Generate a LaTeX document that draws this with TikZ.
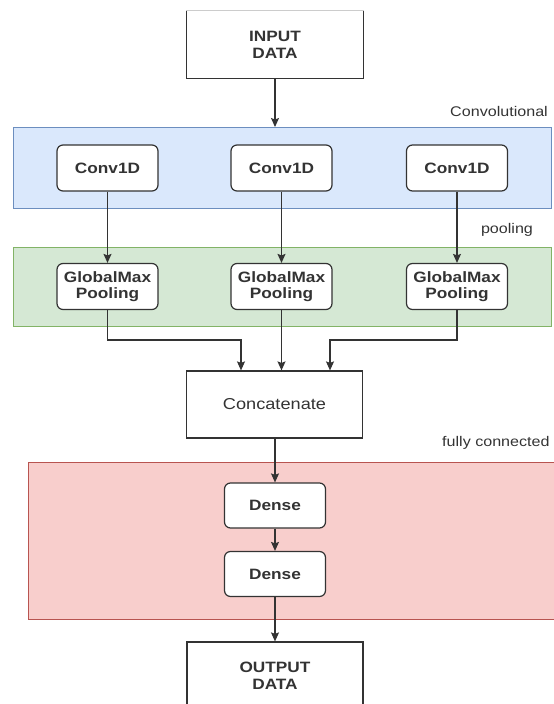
\documentclass[tikz,border=0pt]{standalone}
\usepackage{fontspec}
\setmainfont{Liberation Sans}[FakeStretch=1.15]
\usetikzlibrary{arrows.meta}
\definecolor{bluefill}{HTML}{DAE8FC}
\definecolor{blueline}{HTML}{6C8EBF}
\definecolor{greenfill}{HTML}{D5E8D4}
\definecolor{greenline}{HTML}{82B366}
\definecolor{redfill}{HTML}{F8CECC}
\definecolor{redline}{HTML}{B85450}
\definecolor{ink}{HTML}{333333}
\tikzset{
  band/.style={draw=#1line, fill=#1fill, line width=0.9pt, inner sep=0pt, anchor=north west},
  plainbox/.style={draw=ink, fill=white, line width=1.2pt, minimum width=176pt, minimum height=67pt,
    align=center, font=\fontsize{15}{17}\selectfont\bfseries, text=ink, inner sep=0pt},
  layerbox/.style={draw=ink, fill=white, line width=1.2pt, rounded corners=6pt, minimum width=101pt,
    minimum height=46pt, align=center, font=\fontsize{15}{16}\selectfont\bfseries, text=ink, inner sep=0pt},
  bandlabel/.style={font=\fontsize{14}{16}\selectfont, text=ink, inner sep=0pt},
  conn/.style={draw=ink, line width=1.1pt, -{Stealth[length=9pt, width=8pt, inset=1.5pt]}},
}
\begin{document}
\begin{tikzpicture}[x=1pt, y=-1pt]
\useasboundingbox (0,0) rectangle (554,704);
% bands
\node[band=blue, minimum width=538pt, minimum height=81pt] (convband) at (13,127) {};
\node[band=green, minimum width=538pt, minimum height=79pt] (poolband) at (13,247) {};
\node[band=red, minimum width=540pt, minimum height=157pt] (fcband) at (28,462) {};
% band labels
\node[bandlabel, anchor=east] (lconv) at (548,111) {Convolutional};
\node[bandlabel] (lpool) at (507,230) {pooling};
\node[bandlabel, anchor=west] (lfc) at (442,443) {fully connected};
% input / output boxes
\node[plainbox, draw=none] (input) at (275,44.5) {INPUT\\DATA};
\draw[ink, line width=1.2pt] (input.north west) -- (input.south west) -- (input.south east) -- (input.north east);
\draw[ink!25, line width=0.8pt] (input.north west) -- (input.north east);
\node[plainbox] (output) at (275,675.5) {OUTPUT\\DATA};
% conv layer
\node[layerbox] (c1) at (107.5,168) {Conv1D};
\node[layerbox] (c2) at (281.5,168) {Conv1D};
\node[layerbox] (c3) at (457,168) {Conv1D};
% pooling layer
\node[layerbox] (p1) at (107.5,286.5) {GlobalMax\\Pooling};
\node[layerbox] (p2) at (281.5,286.5) {GlobalMax\\Pooling};
\node[layerbox] (p3) at (457,286.5) {GlobalMax\\Pooling};
% concatenate
\node[plainbox, font=\fontsize{15.8}{17}\selectfont] (cat) at (274.5,404.5) {Concatenate};
% dense
\node[layerbox, minimum height=45pt] (d1) at (275,505.5) {Dense};
\node[layerbox, minimum height=45pt] (d2) at (275,574) {Dense};
% connectors
\coordinate (jl) at (107.5,340);
\coordinate (jr) at (457,340);
\draw[conn] (input.south) -- (input.south |- convband.north);
\draw[conn] (c1) -- (p1);
\draw[conn] (c2) -- (p2);
\draw[conn] (c3) -- (p3);
\draw[conn] (p1.south) -- (jl) -- (jl -| 241,0) -- (241,0 |- cat.north);
\draw[conn] (p2.south) -- (p2.south |- cat.north);
\draw[conn] (p3.south) -- (jr) -- (jr -| 330,0) -- (330,0 |- cat.north);
\draw[conn] (cat.south -| d1.north) -- (d1.north);
\draw[conn] (d1) -- (d2);
\draw[conn] (d2.south) -- (d2.south |- output.north);
\end{tikzpicture}
\end{document}
